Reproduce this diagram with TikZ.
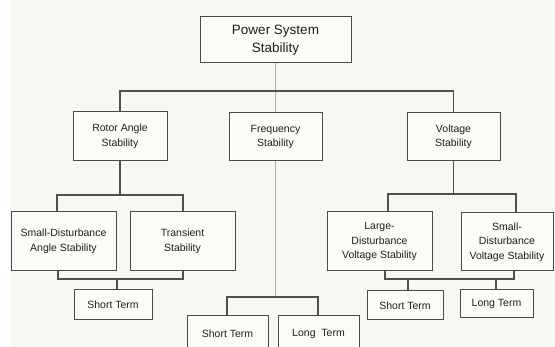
\documentclass[tikz,border=0pt]{standalone}
\usepackage{fontspec}
\setmainfont{Liberation Sans}
\definecolor{bgc}{HTML}{F8F8F3}
\definecolor{boxfill}{HTML}{FCFCF7}
\definecolor{boxc}{HTML}{4A4A4A}
\definecolor{lnc}{HTML}{505050}
\definecolor{lgc}{HTML}{ABABAB}
\definecolor{txc}{HTML}{1E1E1E}
\tikzset{
  box/.style={draw=boxc, line width=1pt, fill=boxfill, text=txc, align=center, inner sep=0pt,
    font=\fontsize{10.5}{14.5}\selectfont},
  ln/.style={draw=lnc, line width=1.3pt},
  lg/.style={draw=lgc, line width=1.6pt},
}
\begin{document}
\begin{tikzpicture}[x=1pt,y=1pt]
\useasboundingbox (0,0) rectangle (555,-347);
\fill[white] (0,0) rectangle (555,-347);
\fill[bgc] (10,0) rectangle (555,-347);
% boxes
\node[box, minimum width=151pt, minimum height=46pt, font=\fontsize{13.5}{18}\selectfont] (top) at (275.5,-40) {Power System\\Stability};
\node[box, minimum width=94pt, minimum height=49pt] (rotor) at (120,-136.5) {Rotor Angle\\Stability};
\node[box, minimum width=93pt, minimum height=48pt] (freq) at (275.5,-137) {Frequency\\Stability};
\node[box, minimum width=93pt, minimum height=48pt] (volt) at (453.5,-137) {Voltage\\Stability};
\node[box, minimum width=105pt, minimum height=59pt] (sda) at (63.5,-241.5) {Small-Disturbance\\Angle Stability};
\node[box, minimum width=105pt, minimum height=59pt] (trans) at (182.5,-241.5) {Transient\\Stability};
\node[box, minimum width=78pt, minimum height=30pt] (st1) at (113,-305) {Short Term};
\node[box, minimum width=81pt, minimum height=36pt] (fst) at (227.5,-334) {Short Term};
\node[box, minimum width=81pt, minimum height=36pt] (flt) at (318.5,-334) {Long\ \ Term};
\node[box, minimum width=105pt, minimum height=59pt] (lvs) at (379.5,-241.5) {Large-\\Disturbance\\Voltage Stability};
\node[box, minimum width=92pt, minimum height=58pt] (svs) at (507,-242) {Small-\\Disturbance\\Voltage Stability};
\node[box, minimum width=76pt, minimum height=29pt] (vst) at (405,-305.5) {Short Term};
\node[box, minimum width=73pt, minimum height=28pt] (vlt) at (496.5,-304) {Long Term};
% junction coordinates
\coordinate (bus) at (275.5,-91);
\coordinate (ra) at (57,-195);
\coordinate (rb) at (183,-195);
\coordinate (rc) at (58,-279);
\coordinate (rd) at (183,-279);
\coordinate (re) at (117,-279);
\coordinate (fa) at (227,-297);
\coordinate (fb) at (318,-297);
\coordinate (va) at (388,-194);
\coordinate (vb) at (516,-194);
\coordinate (vc) at (385,-279);
\coordinate (vd) at (514,-279);
\coordinate (ve) at (408,-279);
\coordinate (vf) at (496,-279);
% top level
\draw[lg] (top.south) -- (freq.north);
\draw[ln] (rotor.north) |- (bus) -| (volt.north);
% rotor group
\draw[ln] (rotor.south) -- (rotor.south |- ra);
\draw[ln] (sda.north -| ra) -- (ra) -- (rb) -- (trans.north -| rb);
\draw[ln] (sda.south -| rc) -- (rc) -- (rd) -- (trans.south -| rd);
\draw[ln] (re) -- (st1.north -| re);
% frequency group
\draw[lg] (freq.south) -- (freq.south |- fa);
\draw[ln] (fst.north -| fa) -- (fa) -- (fb) -- (flt.north -| fb);
% voltage group
\draw[ln] (volt.south) -- (volt.south |- va);
\draw[ln] (lvs.north -| va) -- (va) -- (vb) -- (svs.north -| vb);
\draw[ln] (lvs.south -| vc) -- (vc) -- (vd) -- (svs.south -| vd);
\draw[ln] (ve) -- (vst.north -| ve);
\draw[ln] (vf) -- (vlt.north -| vf);
\end{tikzpicture}
\end{document}
